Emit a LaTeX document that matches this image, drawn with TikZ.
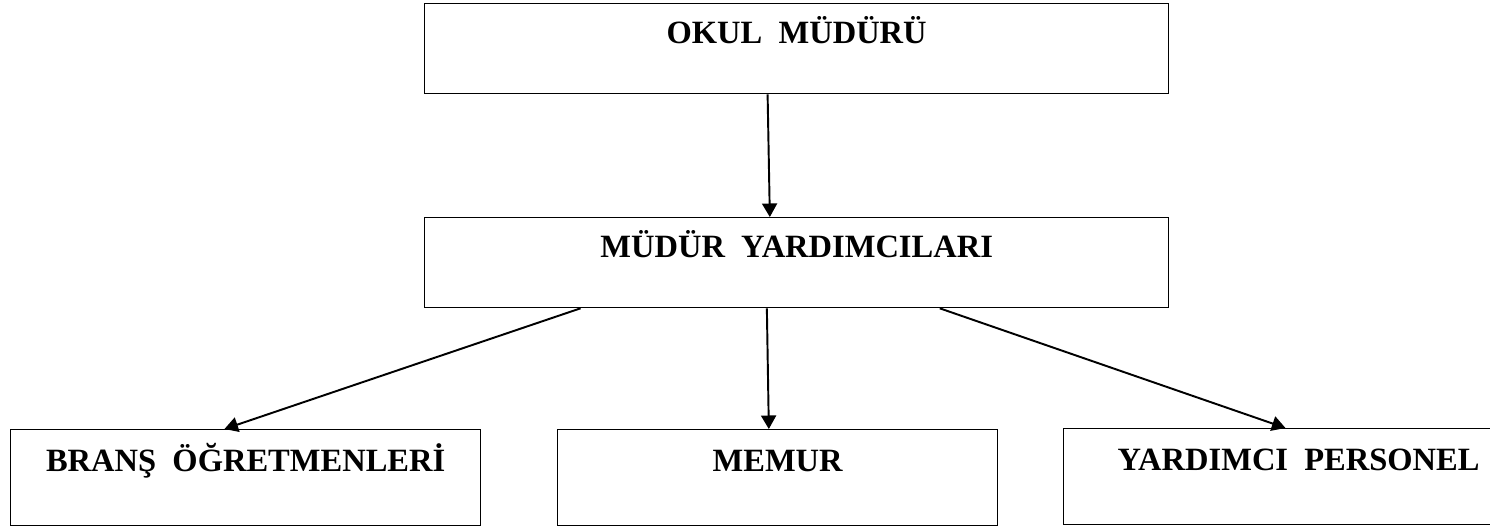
\documentclass[tikz,border=0pt]{standalone}
\usepackage{fontspec}
\setmainfont{Liberation Serif}
\usetikzlibrary{calc,arrows.meta}
\tikzset{
  kutu/.style={draw, line width=0.75pt, anchor=north west, inner sep=0pt,
    font=\bfseries\fontsize{18.5}{22}\selectfont},
  ok/.style={line width=1.1pt, -{Triangle[length=2.7mm,width=3mm]}}
}
\begin{document}
\begin{tikzpicture}[x=0.2mm,y=-0.2mm]
    \useasboundingbox (0,0) rectangle (1490,526);
    \node[kutu, minimum width=14.88cm, text height=0.8cm, text depth=1cm] (okul) at (424,3) {OKUL~~MÜDÜRÜ};
    \node[kutu, minimum width=14.88cm, text height=0.8cm, text depth=1cm] (yard) at (424,217) {MÜDÜR~~YARDIMCILARI};
    \foreach \n/\x/\y/\w/\t in {brans/10/429/9.4cm/BRANŞ~~ÖĞRETMENLERİ,
              memur/557/429/8.8cm/MEMUR,
              yrd/1063/428/9.4cm/YARDIMCI~~PERSONEL}
    \node[kutu, minimum width=\w, text height=0.84cm, text depth=1.08cm] (\n) at (\x,\y) {\t};
    \draw[ok] ($(okul.south west)!0.461!(okul.south east)$) -- ($(yard.north west)!0.464!(yard.north east)$);
    \draw[ok] ($(yard.south west)!0.21!(yard.south east)$) -- ($(brans.north west)!0.455!(brans.north east)$);
    \draw[ok] ($(yard.south west)!0.46!(yard.south east)$) -- ($(memur.north west)!0.48!(memur.north east)$);
    \draw[ok] ($(yard.south west)!0.692!(yard.south east)$) -- ($(yrd.north west)!0.472!(yrd.north east)$);
  \end{tikzpicture}
\end{document}
